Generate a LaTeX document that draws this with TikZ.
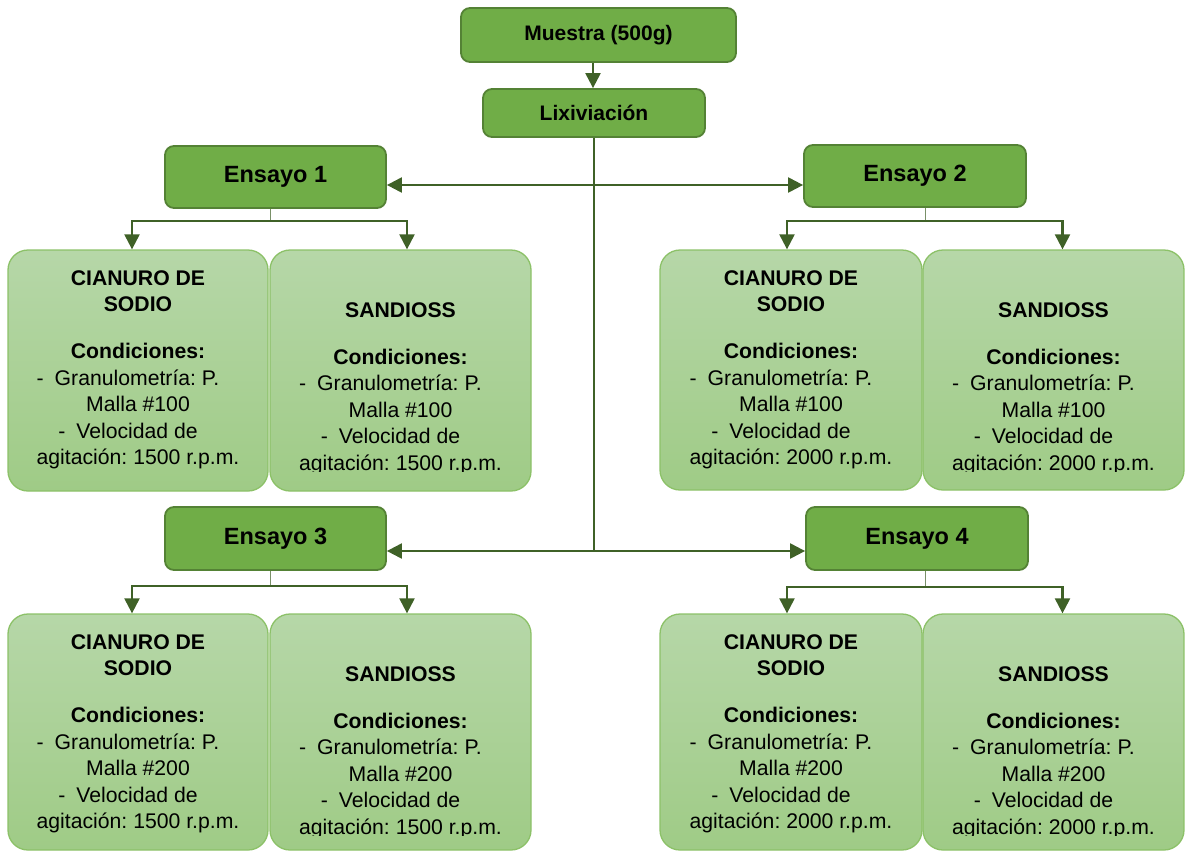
\documentclass[tikz,border=0pt]{standalone}
\usepackage{fontspec}
\setmainfont{Liberation Sans}
\frenchspacing
\usetikzlibrary{arrows.meta,positioning,calc}
\definecolor{topfill}{HTML}{70AD47}
\definecolor{topdraw}{HTML}{548235}
\definecolor{arrcol}{HTML}{3F6127}
\definecolor{cfilltop}{HTML}{B6D7A8}
\definecolor{cfillbot}{HTML}{9FCB86}
\definecolor{cdraw}{HTML}{8CC168}
\tikzset{
  topbox/.style={draw=topdraw, line width=1.8pt, fill=topfill, rounded corners=9pt,
    inner sep=0pt, font=\bfseries\fontsize{21}{25}\selectfont},
  ensbox/.style={topbox, font=\bfseries\fontsize{23.5}{28}\selectfont},
  condbox/.style={draw=cdraw, line width=1.3pt, top color=cfilltop, bottom color=cfillbot,
    rounded corners=20pt, inner sep=0pt},
  condtext/.style={align=center, inner sep=0pt, anchor=north,
    font=\fontsize{21.2}{26.5}\selectfont},
  arr/.style={draw=arrcol, line width=2.2pt, -{Triangle[length=15pt,width=15pt]}},
  mainline/.style={draw=arrcol, line width=2.2pt},
  stemline/.style={draw=arrcol!70, line width=1pt},
}
\newcommand{\dashline}[1]{-\hspace{11pt}#1\rule{20pt}{0pt}}
\newcommand{\cianuro}[2]{\textbf{CIANURO DE}\\\textbf{SODIO}\\[20.5pt]\textbf{Condiciones:}\\\dashline{Granulometría: P.}\\Malla \##1\\\dashline{Velocidad de}\\agitación: #2 r.p.m.}
\newcommand{\sandioss}[2]{\textbf{SANDIOSS}\\[20.5pt]\textbf{Condiciones:}\\\dashline{Granulometría: P.}\\Malla \##1\\\dashline{Velocidad de}\\agitación: #2 r.p.m.}
\begin{document}
\begin{tikzpicture}[x=1pt,y=-1pt]
\useasboundingbox (0,0) rectangle (1185,852);
% top boxes
\node[topbox, minimum width=275pt, minimum height=54pt] (M) at (598.5,35) {Muestra (500g)};
\node[topbox, minimum width=222pt, minimum height=48pt] (L) at (594,113) {Lixiviación};
\node[ensbox, minimum width=221pt, minimum height=62pt] (E1) at (275.5,177) {Ensayo 1};
\node[ensbox, minimum width=222pt, minimum height=62pt] (E2) at (915,176) {Ensayo 2};
\node[ensbox, minimum width=221pt, minimum height=63pt] (E3) at (275.5,538.5) {Ensayo 3};
\node[ensbox, minimum width=222pt, minimum height=63pt] (E4) at (917,538.5) {Ensayo 4};
% condition boxes
\node[condbox, minimum width=260pt, minimum height=241pt] (C1a) at (138,370.5) {};
\node[condbox, minimum width=261pt, minimum height=241pt] (C1b) at (400.5,370.5) {};
\node[condbox, minimum width=262pt, minimum height=240pt] (C2a) at (791,370) {};
\node[condbox, minimum width=261pt, minimum height=240pt] (C2b) at (1053.5,370) {};
\node[condbox, minimum width=260pt, minimum height=236pt] (C3a) at (138,732) {};
\node[condbox, minimum width=261pt, minimum height=236pt] (C3b) at (400.5,732) {};
\node[condbox, minimum width=262pt, minimum height=236pt] (C4a) at (791,732) {};
\node[condbox, minimum width=261pt, minimum height=236pt] (C4b) at (1053.5,732) {};
% texts
\node[condtext] (T1a) at (138,270.4) {\cianuro{100}{1500}};
\node[condtext] (T2a) at (791,270.4) {\cianuro{100}{2000}};
\node[condtext] (T3a) at (138,634.4) {\cianuro{200}{1500}};
\node[condtext] (T4a) at (791,634.4) {\cianuro{200}{2000}};
\begin{scope}
  \clip (260,260) rectangle (540,471.5);
  \node[condtext] (T1b) at (400.5,302.4) {\sandioss{100}{1500}};
\end{scope}
\begin{scope}
  \clip (915,260) rectangle (1185,471.5);
  \node[condtext] (T2b) at (1053.5,302.4) {\sandioss{100}{2000}};
\end{scope}
\begin{scope}
  \clip (260,624) rectangle (540,835.5);
  \node[condtext] (T3b) at (400.5,666.4) {\sandioss{200}{1500}};
\end{scope}
\begin{scope}
  \clip (915,624) rectangle (1185,835.5);
  \node[condtext] (T4b) at (1053.5,666.4) {\sandioss{200}{2000}};
\end{scope}
% main connectors
\draw[arr] ([xshift=-1pt]L.north |- M.south) -- ([xshift=-1pt]L.north);
\coordinate (j1) at (594,185);
\coordinate (j2) at (594,551);
\draw[mainline] (L.south) -- (j2);
\draw[arr] (j1) -- (j1 -| E1.east);
\draw[arr] (j1) -- (j1 -| E2.west);
\draw[arr] (j2) -- (j2 -| E3.east);
\draw[arr] (j2) -- (j2 -| E4.west);
% branches
\coordinate (b1) at (270,221);
\coordinate (b2) at (925,221);
\coordinate (b3) at (270,586);
\coordinate (b4) at (925,587);
\draw[stemline] (b1 |- E1.south) -- (b1);
\draw[stemline] (b2 |- E2.south) -- (b2);
\draw[stemline] (b3 |- E3.south) -- (b3);
\draw[stemline] (b4 |- E4.south) -- (b4);
\draw[arr] (b1) -| ([xshift=-6pt]C1a.north);
\draw[arr] (b1) -| ([xshift=6.5pt]C1b.north);
\draw[arr] (b2) -| ([xshift=-4pt]C2a.north);
\draw[arr] (b2) -| ([xshift=9pt]C2b.north);
\draw[arr] (b3) -| ([xshift=-6pt]C3a.north);
\draw[arr] (b3) -| ([xshift=6.5pt]C3b.north);
\draw[arr] (b4) -| ([xshift=-4pt]C4a.north);
\draw[arr] (b4) -| ([xshift=9pt]C4b.north);
\end{tikzpicture}
\end{document}
